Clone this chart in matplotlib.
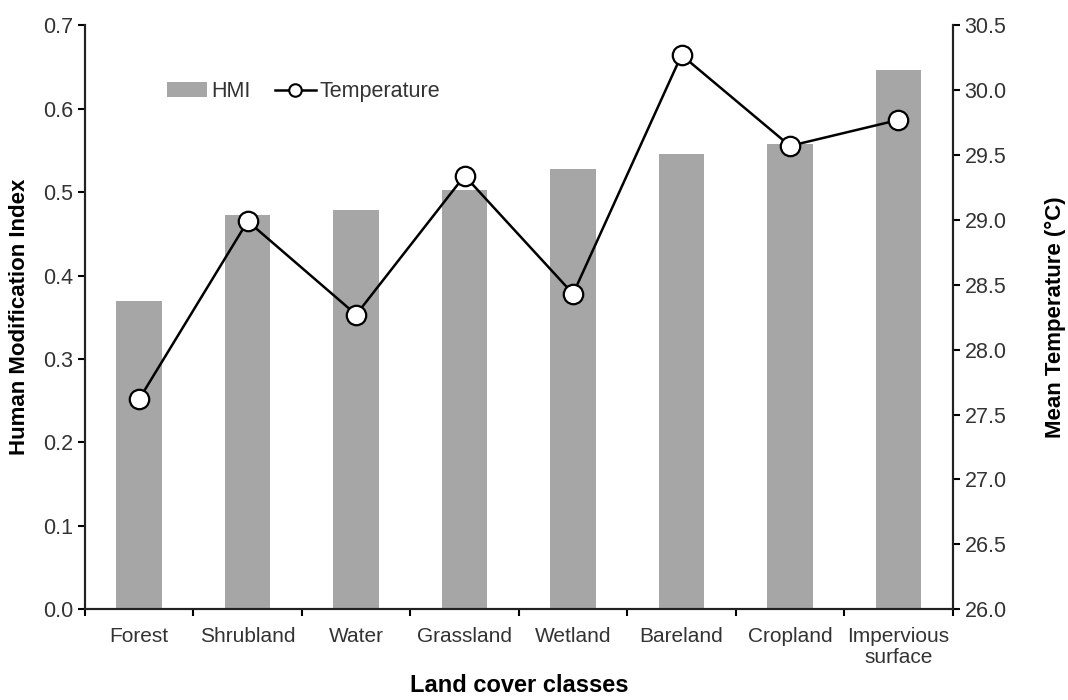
import matplotlib.pyplot as plt
from matplotlib.lines import Line2D
import numpy as np

plt.rcParams['font.family'] = ['Liberation Sans', 'DejaVu Sans']

classes = ['Forest', 'Shrubland', 'Water', 'Grassland', 'Wetland',
           'Bareland', 'Cropland', 'Impervious\nsurface']
hmi = [0.370, 0.472, 0.478, 0.502, 0.528, 0.546, 0.558, 0.646]
temperature = [27.62, 28.99, 28.27, 29.34, 28.43, 30.27, 29.57, 29.77]

txt = '#333333'
x = np.arange(len(classes))

fig = plt.figure(figsize=(10.68, 7), dpi=100)
ax = fig.add_axes([0.0796, 0.1296, 0.8124, 0.8344])
ax2 = ax.twinx()

bars = ax.bar(x, hmi, width=0.42, color='#a6a6a6', label='HMI', zorder=2)
ax2.plot(x, temperature, color='black', lw=1.8, marker='o', ms=14,
         mfc='white', mec='black', mew=1.6)

ax.set_xlim(-0.5, len(classes) - 0.5)
ax.set_ylim(0, 0.7)
ax2.set_ylim(26.0, 30.5)
ax.set_yticks(np.arange(0, 0.71, 0.1))
ax.set_yticklabels([f'{v:.1f}' for v in np.arange(0, 0.71, 0.1)])
ax2.set_yticks(np.arange(26.0, 30.51, 0.5))
ax2.set_yticklabels([f'{v:.1f}' for v in np.arange(26.0, 30.51, 0.5)])

ax.set_xticks(x)
ax.set_xticklabels(classes, fontsize=15, color=txt, linespacing=1.1)
ax.set_xticks(np.arange(-0.5, len(classes)), minor=True)
ax.tick_params(axis='x', which='major', length=0, pad=13)
ax.tick_params(axis='x', which='minor', length=5, width=1.5, direction='out')
ax.tick_params(axis='y', labelsize=15.5, labelcolor=txt, length=5, width=1.5)
ax2.tick_params(axis='y', labelsize=15.5, labelcolor=txt, length=5, width=1.5)

for a in (ax, ax2):
    a.spines['top'].set_visible(False)
    for s in ('left', 'right', 'bottom'):
        a.spines[s].set_linewidth(1.5)
        a.spines[s].set_color('#222222')

ax.set_ylabel('Human Modification Index', fontsize=16, fontweight='bold', va='center')
ax.yaxis.set_label_coords(-0.075, 0.5)
ax2.set_ylabel('Mean Temperature (°C)', fontsize=16, fontweight='bold', va='center')
ax2.yaxis.set_label_coords(1.118, 0.5)
ax.set_xlabel('Land cover classes', fontsize=17, fontweight='bold', va='center')
ax.xaxis.set_label_coords(0.5, -0.13)

leg_line = Line2D([], [], color='black', lw=1.8, marker='o', ms=9,
                  mfc='white', mec='black', mew=1.5)
ax.legend([bars, leg_line], ['HMI', 'Temperature'], loc='center left',
          bbox_to_anchor=(0.0716, 0.886), ncol=2, frameon=False, fontsize=15.5,
          handlelength=1.9, columnspacing=1.1, handletextpad=0.2,
          labelcolor=txt)

fig.savefig('out.png', dpi=100)
